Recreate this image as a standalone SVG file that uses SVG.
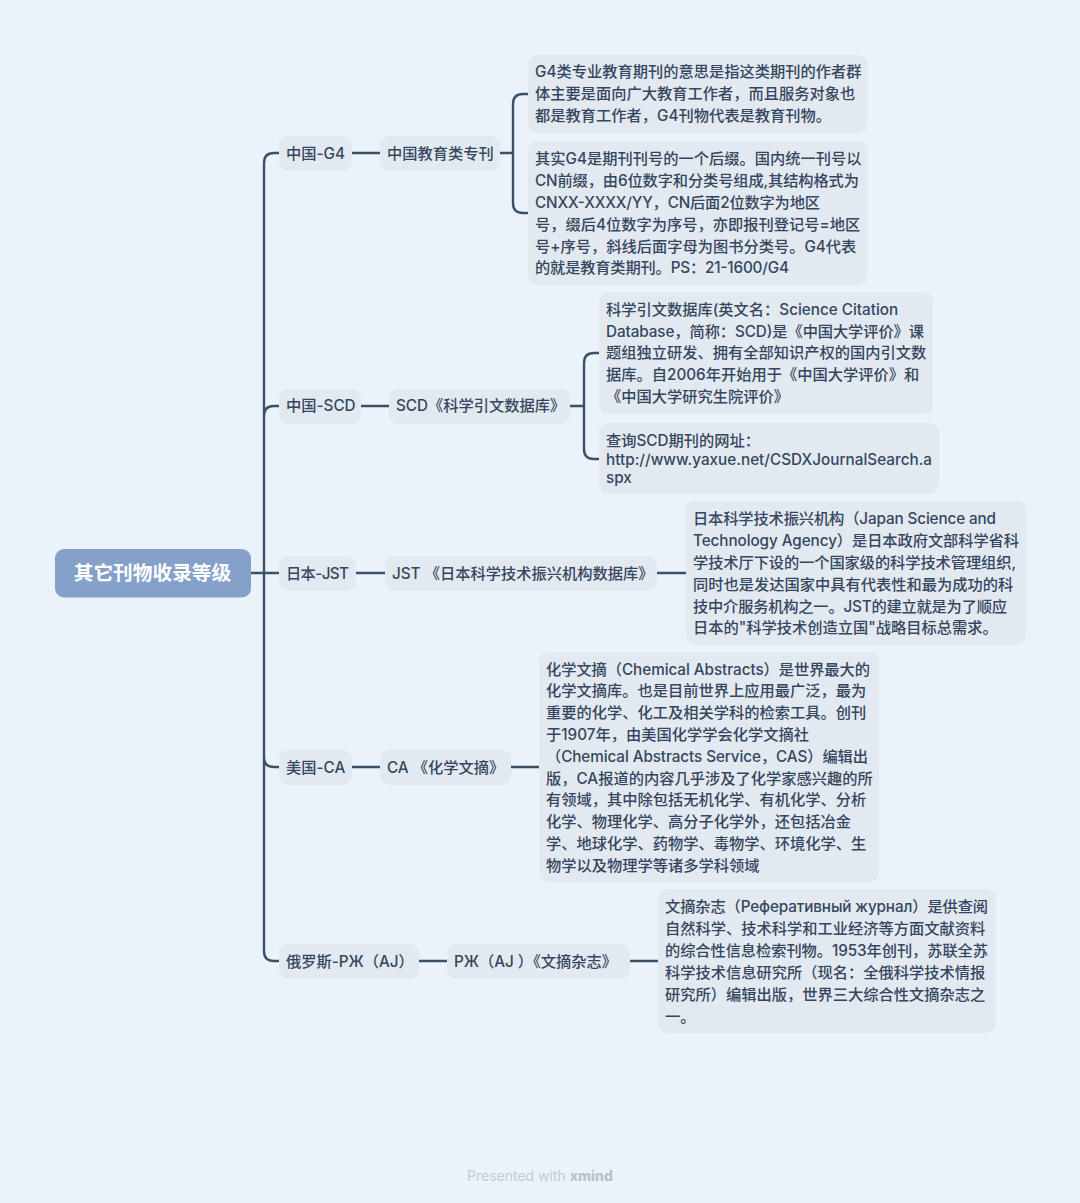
<svg xmlns="http://www.w3.org/2000/svg" width="1080" height="1203" viewBox="0 0 1080 1203">
<style>
text{font-family:"Inter","Noto Sans CJK SC","Noto Sans",sans-serif;font-size:15.25px;font-weight:500;fill:#35465e}
.b{fill:#e2e9f1}
.c{fill:none;stroke:#3d4f68;stroke-width:2.4}
</style>
<rect width="1080" height="1203" fill="#ebf3fa"/>
<g id="connectors">
<path class="c" d="M251 573H279M279 153H274Q264 153 264 163V951Q264 961 274 961H279M264 416Q264 406 274 406H279M264 757Q264 767 274 767H279"/>
<path class="c" d="M352 153H380M500 153H513M528 94H523Q513 94 513 104V203Q513 213 523 213H528"/>
<path class="c" d="M361 406H389M570 406H584M599 353H594Q584 353 584 363V449Q584 459 594 459H599"/>
<path class="c" d="M356 573H385M657 573H686"/>
<path class="c" d="M352 767H380M511 767H539"/>
<path class="c" d="M419 961H447M630 961H658"/>
</g>
<g id="root"><rect x="55" y="549" width="196" height="48.500" rx="9" fill="#85a1c9"/><text x="152.500" y="580" text-anchor="middle" style="font-size:19.700px;font-weight:700;fill:#fff">其它刊物收录等级</text></g>
<g id="n1"><rect class="b" x="279" y="136" width="73" height="35" rx="9"/><text x="286" y="159">中国-G4</text></g>
<g id="n1a"><rect class="b" x="380" y="136" width="120" height="35" rx="9"/><text x="387" y="159">中国教育类专刊</text></g>
<g id="n1b"><rect class="b" x="528" y="55" width="340" height="78" rx="9"/>
<text x="535" y="77">G4类专业教育期刊的意思是指这类期刊的作者群</text><text x="535" y="99">体主要是面向广大教育工作者，而且服务对象也</text><text x="535" y="121">都是教育工作者，G4刊物代表是教育刊物。</text></g>
<g id="n1c"><rect class="b" x="528" y="141" width="340" height="144" rx="9"/>
<text x="535" y="164">其实G4是期刊刊号的一个后缀。国内统一刊号以</text><text x="535" y="186" textLength="324">CN前缀，由6位数字和分类号组成,其结构格式为</text><text x="535" y="208" textLength="285">CNXX-XXXX/YY，CN后面2位数字为地区</text><text x="535" y="230">号，缀后4位数字为序号，亦即报刊登记号=地区</text><text x="535" y="252">号+序号，斜线后面字母为图书分类号。G4代表</text><text x="535" y="273" textLength="254">的就是教育类期刊。PS：21-1600/G4</text></g>
<g id="n2"><rect class="b" x="279" y="389" width="82" height="35" rx="9"/><text x="286" y="411">中国-SCD</text></g>
<g id="n2a"><rect class="b" x="389" y="389" width="181" height="35" rx="9"/><text x="396" y="411">SCD《科学引文数据库》</text></g>
<g id="n2b"><rect class="b" x="599" y="292" width="334" height="122" rx="9"/>
<text x="606" y="315">科学引文数据库(英文名：Science Citation</text><text x="606" y="337" textLength="318">Database，简称：SCD)是《中国大学评价》课</text><text x="606" y="358">题组独立研发、拥有全部知识产权的国内引文数</text><text x="606" y="380">据库。自2006年开始用于《中国大学评价》和</text><text x="606" y="402">《中国大学研究生院评价》</text></g>
<g id="n2c"><rect class="b" x="599" y="423" width="340" height="71" rx="9"/>
<text x="606" y="446">查询SCD期刊的网址：</text><text x="606" y="465" textLength="326">http://www.yaxue.net/CSDXJournalSearch.a</text><text x="606" y="483">spx</text></g>
<g id="n3"><rect class="b" x="279" y="556" width="77" height="35" rx="9"/><text x="286" y="579" textLength="63">日本-JST</text></g>
<g id="n3a"><rect class="b" x="385" y="556" width="272" height="35" rx="9"/><text x="392" y="579">JST 《日本科学技术振兴机构数据库》</text></g>
<g id="n3b"><rect class="b" x="686" y="501" width="340" height="144" rx="9"/>
<text x="693" y="524" textLength="303">日本科学技术振兴机构（Japan Science and</text><text x="693" y="546" textLength="326">Technology Agency）是日本政府文部科学省科</text><text x="693" y="568" textLength="323">学技术厅下设的一个国家级的科学技术管理组织,</text><text x="693" y="590">同时也是发达国家中具有代表性和最为成功的科</text><text x="693" y="612" textLength="314">技中介服务机构之一。JST的建立就是为了顺应</text><text x="693" y="633">日本的"科学技术创造立国"战略目标总需求。</text></g>
<g id="n4"><rect class="b" x="279" y="750" width="73" height="35" rx="9"/><text x="286" y="773">美国-CA</text></g>
<g id="n4a"><rect class="b" x="380" y="750" width="131" height="35" rx="9"/><text x="387" y="773">CA 《化学文摘》</text></g>
<g id="n4b"><rect class="b" x="539" y="652" width="340" height="230" rx="9"/>
<text x="546" y="675" textLength="324">化学文摘（Chemical Abstracts）是世界最大的</text><text x="546" y="696">化学文摘库。也是目前世界上应用最广泛，最为</text><text x="546" y="718">重要的化学、化工及相关学科的检索工具。创刊</text><text x="546" y="740">于1907年，由美国化学学会化学文摘社</text><text x="546" y="762" textLength="322">（Chemical Abstracts Service，CAS）编辑出</text><text x="546" y="784">版，CA报道的内容几乎涉及了化学家感兴趣的所</text><text x="546" y="805">有领域，其中除包括无机化学、有机化学、分析</text><text x="546" y="827">化学、物理化学、高分子化学外，还包括冶金</text><text x="546" y="849">学、地球化学、药物学、毒物学、环境化学、生</text><text x="546" y="871">物学以及物理学等诸多学科领域</text></g>
<g id="n5"><rect class="b" x="279" y="944" width="140" height="35" rx="9"/><text x="286" y="967">俄罗斯-РЖ（AJ）</text></g>
<g id="n5a"><rect class="b" x="447" y="944" width="183" height="35" rx="9"/><text x="454" y="967">РЖ（AJ ）《文摘杂志》</text></g>
<g id="n5b"><rect class="b" x="658" y="889" width="338" height="144" rx="9"/>
<text x="665" y="912" textLength="323">文摘杂志（Реферативный журнал）是供查阅</text><text x="665" y="934">自然科学、技术科学和工业经济等方面文献资料</text><text x="665" y="956" textLength="323">的综合性信息检索刊物。1953年创刊，苏联全苏</text><text x="665" y="978">科学技术信息研究所（现名：全俄科学技术情报</text><text x="665" y="1000">研究所）编辑出版，世界三大综合性文摘杂志之</text><text x="665" y="1022">一。</text></g>
<g id="footer"><text x="467" y="1181" style="font-size:14px;font-weight:400;fill:#c6cbd1">Presented with <tspan font-weight="800" fill="#bcc1c7">xmind</tspan></text></g>
</svg>
